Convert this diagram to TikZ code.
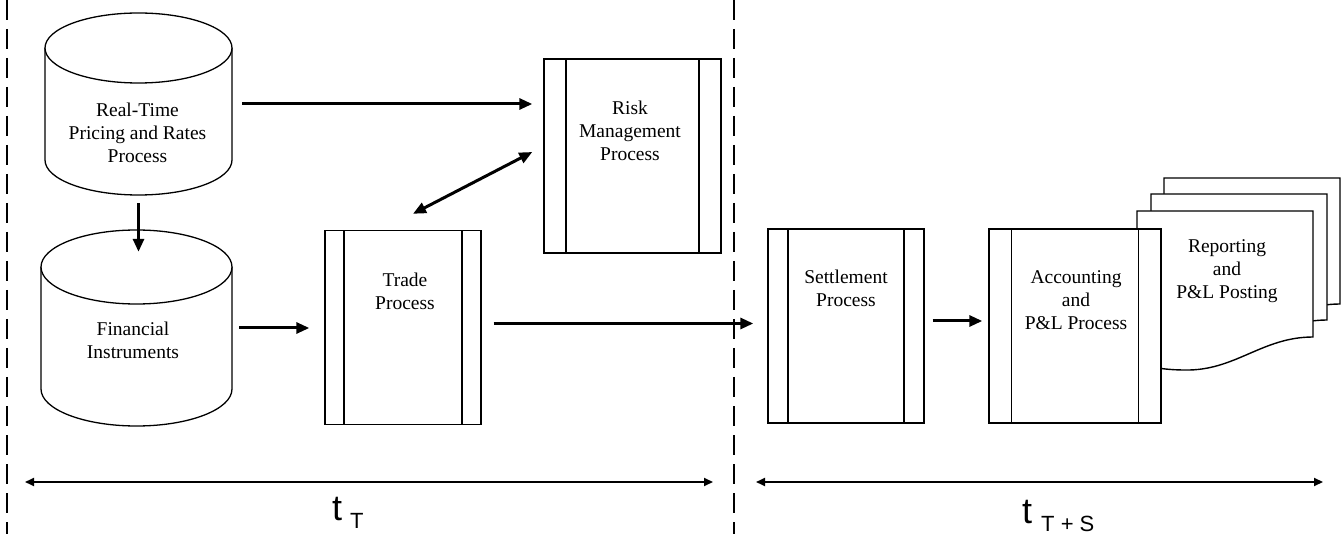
\documentclass[tikz,border=0pt]{standalone}
\usepackage{fontspec}
\setmainfont{Liberation Serif}
\newfontfamily\arialf{Liberation Sans}
\usetikzlibrary{arrows.meta}
\begin{document}
\begin{tikzpicture}[x=1pt,y=-1pt,
  arr/.style={line width=3pt,-{Triangle[length=13pt,width=11pt]}},
  darr/.style={line width=3pt,{Triangle[length=13pt,width=11pt]}-{Triangle[length=13pt,width=11pt]}},
  tarr/.style={line width=2pt,{Triangle[length=9pt,width=8pt]}-{Triangle[length=9pt,width=8pt]}},
  divider/.style={line width=2.5pt,dash pattern=on 20pt off 9pt},
  proc/.style 2 args={draw,fill=white,line width=1.4pt,minimum width=#1,minimum height=194pt,inner sep=0pt,
    path picture={\draw[line width=1.4pt] ([xshift=#2]path picture bounding box.north west) -- ([xshift=#2]path picture bounding box.south west);
                  \draw[line width=1.4pt] ([xshift=-#2]path picture bounding box.north east) -- ([xshift=-#2]path picture bounding box.south east);}},
  lbl/.style={align=center,inner sep=0pt,font=\fontsize{19.5}{23}\selectfont},
  cyl/.style={draw,fill=white,line width=1.3pt},
  doc/.style={draw,fill=white,line width=1.4pt},
  holder/.style={inner sep=0pt,draw=none}
]
\useasboundingbox (0,0) rectangle (1341,534);

% dividers
\coordinate (d1t) at (7,0); \coordinate (d1b) at (7,534);
\coordinate (d2t) at (734,0); \coordinate (d2b) at (734,534);
\draw[divider] (d1t) -- (d1b);
\draw[divider] (d2t) -- (d2b);

% cylinder 1
\node[holder,minimum width=187pt,minimum height=182pt] (rt) at (138.5,104) {};
\draw[cyl] (45,48) -- (45,160) arc[start angle=180,end angle=0,x radius=93.5,y radius=35] -- (232,48);
\draw[cyl] (138.5,48) ellipse[x radius=93.5,y radius=35];
\node[lbl] (rtl) at (137.5,133) {Real-Time\\Pricing and Rates\\Process};

% cylinder 2
\node[holder,minimum width=191pt,minimum height=196pt] (fi) at (136.5,328) {};
\draw[cyl] (41,267) -- (41,389) arc[start angle=180,end angle=0,x radius=95.5,y radius=37] -- (232,267);
\draw[cyl] (136.5,267) ellipse[x radius=95.5,y radius=37];
\node[lbl] (fil) at (133,340) {Financial\\Instruments};

% process boxes
\node[proc={177pt}{22pt}] (risk) at (632.5,156) {};
\node[lbl] (riskl) at (630,131) {Risk\\Management\\Process};
\node[proc={156pt}{19pt}] (trade) at (403,327.5) {};
\node[lbl] (tradel) at (405,291) {Trade\\Process};
\node[proc={156pt}{20pt}] (settle) at (846,326) {};
\node[lbl] (settlel) at (846,288.5) {Settlement\\Process};

% document stack
\foreach \dx/\dy in {27/-33,14/-17,0/0}{
  \draw[doc,shift={(\dx,\dy)}] (1137,211) -- (1313,211) -- (1313,337)
    .. controls (1262,337) and (1235,371) .. (1185,370)
    .. controls (1165,370) and (1150,367) .. (1137,364) -- cycle;
}
\node[lbl] (rep) at (1227,271) {Reporting\\and\\P\&L Posting};

\node[proc={172pt}{22.5pt}] (acct) at (1075,326) {};
\node[lbl] (acctl) at (1076,300) {Accounting\\and\\P\&L Process};

% connectors
\draw[arr] ([xshift=10pt]rt.east) -- ([xshift=-11pt]rt.east -| risk.west);
\draw[arr] ([yshift=-8pt]rt.south) -- ([yshift=-22pt]rt.south |- fi.north);
\draw[arr] ([xshift=7pt]fi.east) -- ([xshift=-15pt]fi.east -| trade.west);
\draw[darr] ([xshift=10pt,yshift=16pt]trade.north) -- ([xshift=-11pt,yshift=4pt]risk.west);
\draw[arr] ([xshift=12pt,yshift=4pt]trade.east) -- ([xshift=-14pt,yshift=4pt]trade.east -| settle.west);
\draw[arr] ([xshift=8pt,yshift=5pt]settle.east) -- ([xshift=-6pt,yshift=5pt]settle.east -| acct.west);

% time spans
\coordinate (tl) at (25,482); \coordinate (tr) at (713,482);
\coordinate (sl) at (756,482); \coordinate (sr) at (1323,482);
\draw[tarr] (tl) -- (tr);
\draw[tarr] (sl) -- (sr);
\node[anchor=base west,inner sep=0pt,font=\arialf] (tt) at (332,520)
  {\fontsize{36}{36}\selectfont t\hspace{8pt}\raisebox{-8pt}{\fontsize{22}{22}\selectfont T}};
\node[anchor=base west,inner sep=0pt,font=\arialf] (tts) at (1022,523)
  {\fontsize{36}{36}\selectfont t\hspace{9pt}\raisebox{-8pt}{\fontsize{22}{22}\selectfont T + S}};
\end{tikzpicture}
\end{document}
